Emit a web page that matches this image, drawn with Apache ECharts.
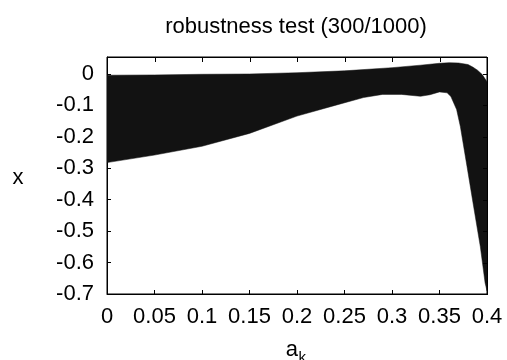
<!DOCTYPE html>
<html>
<head>
<meta charset="utf-8">
<script src="https://cdn.jsdelivr.net/npm/echarts@6/dist/echarts.min.js"></script>
<style>html,body{margin:0;padding:0;background:#fff}#c{width:507px;height:360px;background:#fff}</style>
</head>
<body>
<div id="c"></div>
<script>
// Upper boundary of the band of trajectories
var upperX = [0, 0.05, 0.1, 0.15, 0.2, 0.25, 0.3, 0.33, 0.35, 0.36, 0.37, 0.38, 0.385, 0.39, 0.395, 0.4];
var upperY = [-0.004, -0.003, -0.001, 0.0, 0.004, 0.01, 0.02, 0.028, 0.034, 0.036, 0.035, 0.03, 0.022, 0.012, -0.002, -0.025];
// Lower boundary of the band
var lowerX = [0, 0.05, 0.1, 0.15, 0.2, 0.24, 0.27, 0.29, 0.31, 0.33, 0.34, 0.35, 0.358, 0.362, 0.368, 0.372, 0.379, 0.386, 0.393, 0.398, 0.4];
var lowerY = [-0.282, -0.258, -0.230, -0.189, -0.134, -0.100, -0.075, -0.065, -0.065, -0.071, -0.066, -0.057, -0.060, -0.072, -0.113, -0.168, -0.295, -0.423, -0.55, -0.665, -0.69];
var xTicks = [0, 0.05, 0.1, 0.15, 0.2, 0.25, 0.3, 0.35, 0.4];
var yTicks = [-0.7, -0.6, -0.5, -0.4, -0.3, -0.2, -0.1, 0];
var xRange = [0, 0.4];
var yRange = [-0.7, 0.054];

var FONT = 'Liberation Sans, Arial, Helvetica, sans-serif';
var chart = echarts.init(document.getElementById('c'), null, {renderer: 'canvas'});

var bandPts = [];
for (var i = 0; i < upperX.length; i++) bandPts.push([upperX[i], upperY[i]]);
for (var j = lowerX.length - 1; j >= 0; j--) bandPts.push([lowerX[j], lowerY[j]]);

function axisCommon() {
  return {
    show: true,
    axisLine: {show: true, onZero: false, lineStyle: {color: '#000', width: 1}},
    axisTick: {show: true, inside: true, length: 4, lineStyle: {color: '#000', width: 1}},
    splitLine: {show: false},
    axisLabel: {show: true, color: '#000', fontSize: 22, fontFamily: FONT}
  };
}
function fmtX(v) {
  for (var k = 0; k < xTicks.length; k++) if (Math.abs(v - xTicks[k]) < 1e-9) return String(xTicks[k]);
  return '';
}
function fmtY(v) {
  for (var k = 0; k < yTicks.length; k++) if (Math.abs(v - yTicks[k]) < 1e-9) return String(yTicks[k]);
  return '';
}
var xa = axisCommon(); xa.axisLabel.margin = 12; xa.axisLabel.formatter = fmtX;
var ya = axisCommon(); ya.axisLabel.margin = 13; ya.axisLabel.formatter = fmtY;

function bar(x, y, w, h) {
  return {type: 'rect', shape: {x: x, y: y, width: w, height: h}, style: {fill: '#000', stroke: null}};
}

var option = {
  animation: false,
  grid: {left: 107, right: 20, top: 57, bottom: 66, containLabel: false, outerBoundsMode: 'none',
         show: true, borderColor: '#000', borderWidth: 1, backgroundColor: 'rgba(0,0,0,0)'},
  xAxis: Object.assign({type: 'value', min: xRange[0], max: xRange[1], interval: 0.05, position: 'bottom'}, xa),
  yAxis: Object.assign({type: 'value', min: yRange[0], max: yRange[1], interval: 0.1, position: 'left'}, ya),
  series: [{
    type: 'custom',
    data: [[0, 0]],
    clip: true,
    renderItem: function (params, api) {
      var pts = bandPts.map(function (p) { return api.coord(p); });
      return {type: 'polygon', shape: {points: pts}, style: {fill: '#121212', stroke: '#121212', lineWidth: 0.5}};
    }
  }, {
    // frame edges and mirrored ticks on top and right, as thin filled bars placed via the axes' scales
    type: 'custom',
    data: [[0, 0]],
    clip: false,
    z: 10,
    silent: true,
    renderItem: function (params, api) {
      var tl = api.coord([xRange[0], yRange[1]]);
      var br = api.coord([xRange[1], yRange[0]]);
      var L = Math.round(tl[0]), T = Math.round(tl[1]), R = Math.round(br[0]), B = Math.round(br[1]);
      var kids = [
        bar(L, T, R - L + 1, 1),   // top edge
        bar(R, T, 1, B - T + 1)    // right edge
      ];
      xTicks.forEach(function (t) {
        var x = Math.round(api.coord([t, yRange[0]])[0]);
        kids.push(bar(x, T, 1, 5));
      });
      yTicks.forEach(function (t) {
        var y = Math.round(api.coord([xRange[0], t])[1]);
        kids.push(bar(R - 4, y, 5, 1));
      });
      return {type: 'group', children: kids};
    }
  }],
  graphic: [
    {type: 'text', x: 296, y: 27, style: {text: 'robustness test (300/1000)', align: 'center', verticalAlign: 'middle', fill: '#000', font: '22px ' + FONT}},
    {type: 'text', x: 18, y: 178, style: {text: 'x', align: 'center', verticalAlign: 'middle', fill: '#000', font: '22px ' + FONT}},
    {type: 'text', x: 298, y: 350, style: {text: 'a', align: 'right', verticalAlign: 'middle', fill: '#000', font: '22px ' + FONT}},
    {type: 'text', x: 298.5, y: 358, style: {text: 'k', align: 'left', verticalAlign: 'middle', fill: '#000', font: '15px ' + FONT}}
  ]
};
chart.setOption(option);
</script>
</body>
</html>
